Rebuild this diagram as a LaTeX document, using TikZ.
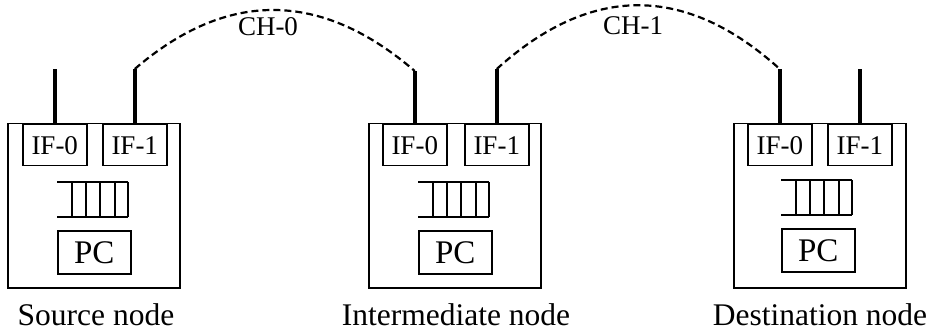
\documentclass[tikz,border=0pt]{standalone}
\usepackage{fontspec}
\setmainfont{Liberation Serif}
\begin{document}
\begin{tikzpicture}[x=1pt,y=-1pt, line width=1.5pt,
  outer/.style={draw, minimum width=172pt, minimum height=164pt, inner sep=0pt, anchor=north west},
  ifbox/.style={draw, minimum width=64pt, minimum height=41pt, inner sep=0pt, anchor=north west, font=\fontsize{27}{29}\selectfont},
  pcbox/.style={draw, minimum width=73pt, minimum height=43pt, inner sep=0pt, anchor=north west, font=\fontsize{33}{35}\selectfont},
  antenna/.style={line width=4.5pt},
  chan/.style={dash pattern=on 7pt off 4pt, line width=2.2pt},
  lbl/.style={anchor=base, font=\fontsize{31.5}{34}\selectfont},
  chlbl/.style={font=\fontsize{27}{29}\selectfont},
  queue/.pic={\draw (0,0) -- (71,0) (0,35) -- (71,35);
    \foreach \x in {15,29,43,58,71} \draw (\x,0) -- (\x,35);}]
\useasboundingbox (0,0) rectangle (931,331);

% Source node
\node[outer] (s) at (7,123) {};
\node[ifbox] (s0) at (22,124) {IF-0};
\node[ifbox] (s1) at (102,124) {IF-1};
\pic at (57,182) {queue};
\node[pcbox] (spc) at (57,230) {PC};
\node[lbl] (sl) at (96,325) {Source node};

% Intermediate node
\node[outer] (m) at (368,123) {};
\node[ifbox] (m0) at (382,124) {IF-0};
\node[ifbox] (m1) at (464,124) {IF-1};
\pic at (418,182) {queue};
\node[pcbox] (mpc) at (418,230) {PC};
\node[lbl] (ml) at (456,325) {Intermediate node};

% Destination node
\node[outer] (d) at (733,123) {};
\node[ifbox] (d0) at (747,124) {IF-0};
\node[ifbox] (d1) at (827,124) {IF-1};
\pic at (781,180) {queue};
\node[pcbox] (dpc) at (781,228) {PC};
\node[lbl] (dl) at (820,325) {Destination node};

% antennas
\draw[antenna] (s0.north) -- ++(0,-55) coordinate (s0a);
\draw[antenna] (s1.north) -- ++(0,-55) coordinate (s1a);
\draw[antenna] (m0.north) -- ++(0,-53) coordinate (m0a);
\draw[antenna] (m1.north) -- ++(0,-55) coordinate (m1a);
\draw[antenna] (d0.north) -- ++(0,-55) coordinate (d0a);
\draw[antenna] (d1.north) -- ++(0,-55) coordinate (d1a);

% channels
\draw[chan] (s1a) .. controls +(93,-80) and +(-93,-80) .. (m0a);
\draw[chan] (m1a) .. controls +(94,-85) and +(-94,-85) .. (d0a);
\node[chlbl] (ch0) at (268,27) {CH-0};
\node[chlbl] (ch1) at (633,26) {CH-1};
\end{tikzpicture}
\end{document}
